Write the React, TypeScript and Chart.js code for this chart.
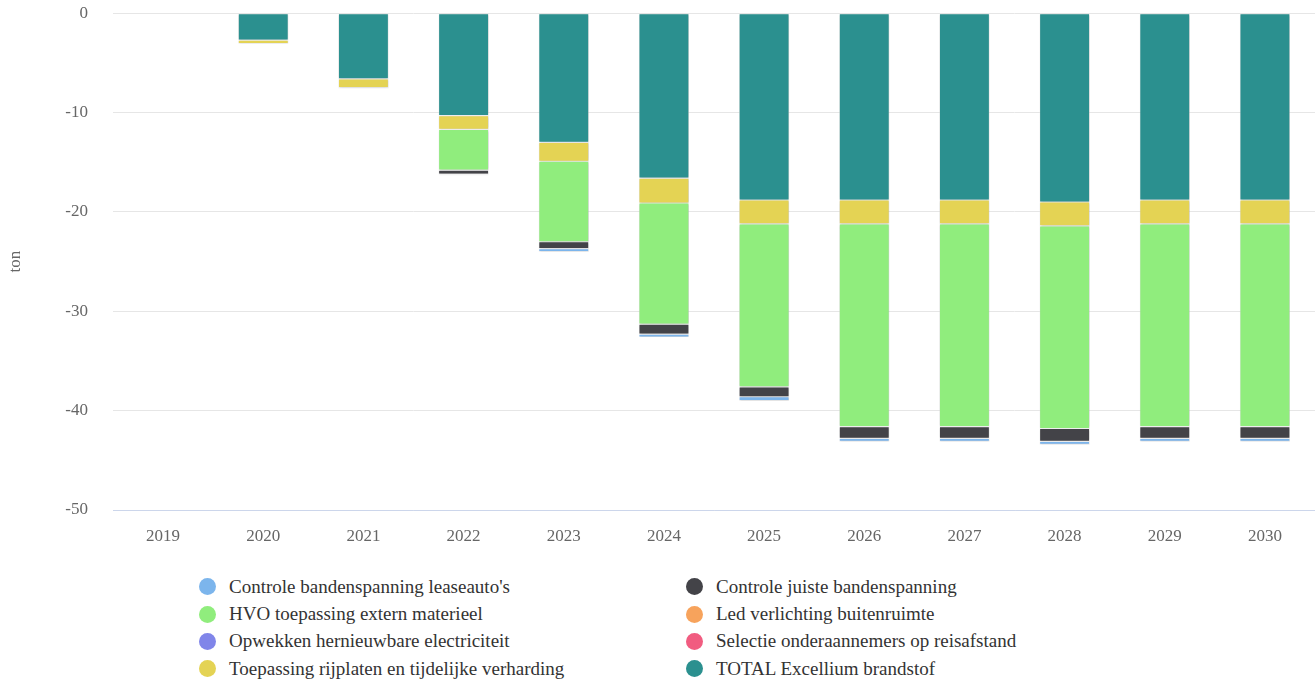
import React, { useEffect, useRef } from "react";
import { Chart, registerables } from "chart.js";

Chart.register(...registerables);

const categories = ["2019", "2020", "2021", "2022", "2023", "2024", "2025", "2026", "2027", "2028", "2029", "2030"];

const totalExcellium = [0, -2.7, -6.6, -10.3, -13.0, -16.6, -18.8, -18.8, -18.8, -19.0, -18.8, -18.8];
const rijplaten = [0, -0.35, -0.9, -1.4, -1.9, -2.5, -2.4, -2.4, -2.4, -2.4, -2.4, -2.4];
const hvo = [0, 0, 0, -4.1, -8.1, -12.2, -16.4, -20.4, -20.4, -20.4, -20.4, -20.4];
const juisteBandenspanning = [0, 0, -0.1, -0.4, -0.7, -1.0, -1.0, -1.2, -1.2, -1.3, -1.2, -1.2];
const leaseauto = [0, 0, 0, -0.1, -0.3, -0.3, -0.4, -0.3, -0.3, -0.3, -0.3, -0.3];
const ledVerlichting = [0, 0, 0, 0, 0, 0, 0, 0, 0, 0, 0, 0];
const opwekken = [0, 0, 0, 0, 0, 0, 0, 0, 0, 0, 0, 0];
const selectie = [0, 0, 0, 0, 0, 0, 0, 0, 0, 0, 0, 0];

const yTicks = [0, -10, -20, -30, -40, -50];

// stacking order (nearest zero first)
const series = [
  { label: "TOTAL Excellium brandstof", data: totalExcellium, color: "#2b908f" },
  { label: "Toepassing rijplaten en tijdelijke verharding", data: rijplaten, color: "#e4d354" },
  { label: "HVO toepassing extern materieel", data: hvo, color: "#90ed7d" },
  { label: "Controle juiste bandenspanning", data: juisteBandenspanning, color: "#434348" },
  { label: "Controle bandenspanning leaseauto's", data: leaseauto, color: "#7cb5ec" },
  { label: "Led verlichting buitenruimte", data: ledVerlichting, color: "#f7a35c" },
  { label: "Opwekken hernieuwbare electriciteit", data: opwekken, color: "#8085e9" },
  { label: "Selectie onderaannemers op reisafstand", data: selectie, color: "#f15c80" },
];

const legendOrder = [
  "Controle bandenspanning leaseauto's",
  "Controle juiste bandenspanning",
  "HVO toepassing extern materieel",
  "Led verlichting buitenruimte",
  "Opwekken hernieuwbare electriciteit",
  "Selectie onderaannemers op reisafstand",
  "Toepassing rijplaten en tijdelijke verharding",
  "TOTAL Excellium brandstof",
];

const FONT = "'Liberation Serif', 'Times New Roman', Times, 'DejaVu Serif'";

const shadowPlugin = {
  id: "barShadow",
  beforeDatasetsDraw(chart: any) {
    const ctx = chart.ctx;
    ctx.save();
    ctx.shadowColor = "rgba(0,0,0,0.25)";
    ctx.shadowBlur = 2.5;
    ctx.shadowOffsetX = 0.5;
    ctx.shadowOffsetY = 0.5;
  },
  afterDatasetsDraw(chart: any) {
    chart.ctx.restore();
  },
};

export default function App() {
  const ref = useRef<HTMLCanvasElement | null>(null);

  useEffect(() => {
    document.body.style.margin = "0";
    const chart = new Chart(ref.current as HTMLCanvasElement, {
      type: "bar",
      data: {
        labels: categories,
        datasets: series.map((s) => ({
          label: s.label,
          data: s.data,
          backgroundColor: s.color,
          borderColor: "#ffffff",
          borderWidth: 0.6,
          borderSkipped: false,
          barPercentage: 0.5,
          categoryPercentage: 1,
        })),
      },
      options: {
        animation: false,
        responsive: false,
        maintainAspectRatio: false,
        layout: { padding: { top: 0, left: 0, right: 0, bottom: 0 } },
        plugins: {
          legend: { display: false },
          tooltip: { enabled: false },
        },
        scales: {
          x: {
            stacked: true,
            grid: { display: false, drawTicks: false },
            border: { display: true, color: "#ccd6eb", width: 1 },
            ticks: { color: "#666666", font: { family: FONT, size: 17 }, padding: 16 },
            afterFit: (scale: any) => {
              scale.height = 50;
            },
          },
          y: {
            stacked: true,
            min: -50,
            max: 0,
            afterBuildTicks: (scale: any) => {
              scale.ticks = yTicks.map((v) => ({ value: v }));
            },
            grid: { color: "#e6e6e6", drawTicks: false },
            border: { display: false },
            ticks: { color: "#666666", font: { family: FONT, size: 17 }, padding: 25 },
            title: {
              display: true,
              text: "ton",
              color: "#666666",
              font: { family: FONT, size: 17 },
              padding: { top: 5, bottom: 0 },
            },
            afterFit: (scale: any) => {
              scale.width = 113;
            },
          },
        },
      },
      plugins: [shadowPlugin],
    });
    return () => chart.destroy();
  }, []);

  const colorOf = (label: string) => series.find((s) => s.label === label)?.color || "#000";

  return (
    <div style={{ width: 1315, fontFamily: FONT }}>
      <canvas
        ref={ref}
        width={1315}
        height={582}
        style={{ display: "block", width: 1315, height: 582, marginTop: -22 }}
      />
      <div
        style={{
          display: "grid",
          gridTemplateColumns: "487px 487px",
          gridAutoRows: "27.4px",
          marginLeft: 199,
          marginTop: 13,
        }}
      >
        {legendOrder.map((label) => (
          <div key={label} style={{ display: "flex", alignItems: "center", fontSize: 19, color: "#333333", whiteSpace: "nowrap" }}>
            <span
              style={{
                display: "inline-block",
                width: 17,
                height: 17,
                borderRadius: "50%",
                background: colorOf(label),
                marginRight: 13,
                flex: "none",
              }}
            />
            <span>{label}</span>
          </div>
        ))}
      </div>
    </div>
  );
}
